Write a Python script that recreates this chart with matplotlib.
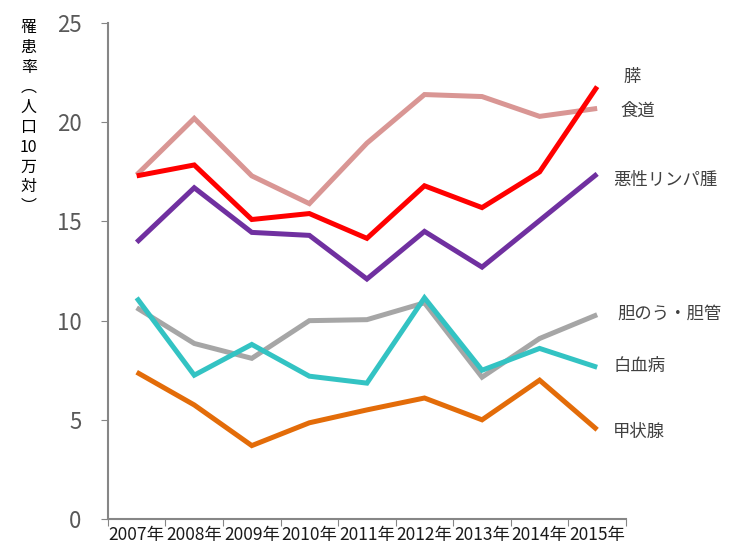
import matplotlib
matplotlib.use("Agg")
import matplotlib.pyplot as plt
import numpy as np

plt.rcParams['font.family'] = ['Noto Sans CJK JP', 'DejaVu Sans']

years = ['2007年', '2008年', '2009年', '2010年', '2011年', '2012年', '2013年', '2014年', '2015年']

shokudo = [17.35, 20.2, 17.3, 15.9, 18.95, 21.4, 21.3, 20.3, 20.7]
sui = [17.3, 17.85, 15.1, 15.4, 14.15, 16.8, 15.7, 17.5, 21.8]
lymph = [13.95, 16.7, 14.45, 14.3, 12.1, 14.5, 12.7, 15.05, 17.4]
tanno = [10.65, 8.85, 8.1, 10.0, 10.05, 10.9, 7.15, 9.1, 10.3]
hakketsu = [11.15, 7.25, 8.8, 7.2, 6.85, 11.15, 7.5, 8.6, 7.65]
kojosen = [7.4, 5.75, 3.7, 4.85, 5.5, 6.1, 5.0, 7.0, 4.5]

names = ['食道', '膵', '悪性リンパ腫', '胆のう・胆管', '白血病', '甲状腺']
series = [shokudo, sui, lymph, tanno, hakketsu, kojosen]
colors = ['#D99694', '#FF0000', '#7030A0', '#A6A6A6', '#33C3C3', '#E36C09']
# label positions beside the line ends
label_x = [8.4, 8.46, 8.28, 8.36, 8.28, 8.28]
label_y = [20.6, 22.3, 17.1, 10.35, 7.7, 4.4]

fig = plt.figure(figsize=(7.39, 5.54), dpi=100)
ax = fig.add_axes([0.146, 0.0632, 0.701, 0.895])

x = np.arange(len(years))
for vals, c in zip(series, colors):
    ax.plot(x, vals, color=c, lw=3.6, solid_joinstyle='miter', solid_capstyle='butt')

for name, lx, ly in zip(names, label_x, label_y):
    ax.text(lx, ly, name, fontsize=12.5, color='#404040',
            va='center', ha='left', clip_on=False)

ax.set_xlim(-0.5, 8.5)
ax.set_ylim(0, 25)
ax.set_yticks([0, 5, 10, 15, 20, 25])
ax.set_xticks(np.arange(-0.5, 9, 1))
ax.set_xticklabels([])
ax.set_xticks(x, minor=True)
ax.set_xticklabels(years, minor=True, fontsize=12.5, color='#1a1a1a')
ax.tick_params(axis='x', which='minor', length=0, pad=5)
ax.tick_params(axis='x', which='major', length=5, color='#868686', direction='out')
ax.tick_params(axis='y', length=5, color='#868686', direction='out', labelsize=16,
               labelcolor='#595959', pad=14)

for s in ['top', 'right']:
    ax.spines[s].set_visible(False)
for s in ['left', 'bottom']:
    ax.spines[s].set_color('#868686')
    ax.spines[s].set_linewidth(1.5)

fig.text(0.039, 0.965, '罹\n患\n率\n︵\n人\n口\n10\n万\n対\n︶', fontsize=11.5,
         color='black', ha='center', va='top', linespacing=1.22)

fig.savefig('out.png', dpi=100)
